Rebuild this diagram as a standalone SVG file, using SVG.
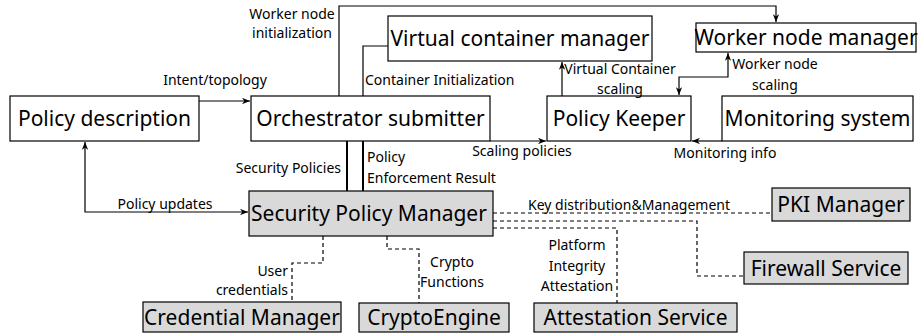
<svg xmlns="http://www.w3.org/2000/svg" width="923" height="334" viewBox="0 0 923 334">
<defs>
<marker id="ah" viewBox="0 0 10 8" refX="10" refY="4" markerWidth="8" markerHeight="6.4" orient="auto-start-reverse" markerUnits="userSpaceOnUse">
<path d="M0,0 L10,4 L0,8 L3,4 Z" fill="#000"/>
</marker>
</defs>
<style>
.box{fill:#fff;stroke:#000;stroke-width:1.2}
.gbox{fill:#d9d9d9;stroke:#000;stroke-width:1.2}
.nt{font-family:"Noto Sans","Open Sans","DejaVu Sans",sans-serif;font-size:21px;fill:#000}
.lb{font-family:"Noto Sans","Open Sans","DejaVu Sans",sans-serif;font-size:14px;fill:#000}
.c{fill:none;stroke:#000;stroke-width:1.2}
.thick{fill:none;stroke:#000;stroke-width:2}
.d{fill:none;stroke:#000;stroke-width:1.2;stroke-dasharray:4,3}
</style>
<rect width="923" height="334" fill="#fff"/>
<g id="connectors">
<path class="c" d="M199,101 L250,101" marker-end="url(#ah)"/>
<path class="c" d="M339,96 L339,6 L776,6 L776,22" marker-end="url(#ah)"/>
<path class="c" d="M363,96 L363,46 L388,46"/>
<path class="c" d="M562,96 L562,62" marker-end="url(#ah)"/>
<path class="c" d="M728,53 L728,77 L679,77 L679,95" marker-start="url(#ah)" marker-end="url(#ah)"/>
<path class="c" d="M490,141 L546,141" marker-end="url(#ah)"/>
<path class="c" d="M722,141 L692,141" marker-end="url(#ah)"/>
<path class="thick" d="M347,141 L347,191"/>
<path class="thick" d="M363,141 L363,191"/>
<path class="c" d="M85,142 L85,212 L248,212" marker-start="url(#ah)" marker-end="url(#ah)"/>
<path class="d" d="M493,213 L772,213"/>
<path class="d" d="M493,221 L697,221 L697,276 L744,276"/>
<path class="d" d="M493,228 L617,228 L617,303"/>
<path class="d" d="M387,236 L387,249 L419,249 L419,303"/>
<path class="d" d="M323,236 L323,263 L292,263 L292,302"/>
</g>
<g id="policy-description"><rect class="box" x="10" y="96" width="189" height="45"/><text class="nt" x="104.5" y="126" text-anchor="middle">Policy description</text></g>
<g id="orchestrator-submitter"><rect class="box" x="251" y="96" width="239" height="45"/><text class="nt" x="370.5" y="126" text-anchor="middle">Orchestrator submitter</text></g>
<g id="virtual-container-manager"><rect class="box" x="388" y="16" width="264" height="45"/><text class="nt" x="520" y="46" text-anchor="middle">Virtual container manager</text></g>
<g id="worker-node-manager"><rect class="box" x="696" y="23" width="220" height="29"/><text class="nt" x="806" y="45" text-anchor="middle">Worker node manager</text></g>
<g id="policy-keeper"><rect class="box" x="547" y="96" width="144" height="45"/><text class="nt" x="619" y="126" text-anchor="middle">Policy Keeper</text></g>
<g id="monitoring-system"><rect class="box" x="722" y="96" width="191" height="45"/><text class="nt" x="817.5" y="126" text-anchor="middle">Monitoring system</text></g>
<g id="security-policy-manager"><rect class="gbox" x="249" y="191" width="244" height="45"/><text class="nt" x="369" y="221" text-anchor="middle">Security Policy Manager</text></g>
<g id="pki-manager"><rect class="gbox" x="772" y="188" width="138" height="33"/><text class="nt" x="841" y="212" text-anchor="middle">PKI Manager</text></g>
<g id="firewall-service"><rect class="gbox" x="744" y="252" width="164" height="32"/><text class="nt" x="826" y="276" text-anchor="middle">Firewall Service</text></g>
<g id="credential-manager"><rect class="gbox" x="143" y="302" width="198" height="30"/><text class="nt" x="242" y="325" text-anchor="middle">Credential Manager</text></g>
<g id="cryptoengine"><rect class="gbox" x="359" y="303" width="150" height="29"/><text class="nt" x="434" y="325" text-anchor="middle">CryptoEngine</text></g>
<g id="attestation-service"><rect class="gbox" x="534" y="303" width="203" height="29"/><text class="nt" x="635.5" y="325" text-anchor="middle">Attestation Service</text></g>
<g id="labels">
<text class="lb" x="292" y="19" text-anchor="middle">Worker node</text>
<text class="lb" x="292" y="38" text-anchor="middle">initialization</text>
<text class="lb" x="215" y="85" text-anchor="middle">Intent/topology</text>
<text class="lb" x="365" y="85">Container Initialization</text>
<text class="lb" x="620" y="74" text-anchor="middle">Virtual Container</text>
<text class="lb" x="620" y="94" text-anchor="middle">scaling</text>
<text class="lb" x="775" y="69" text-anchor="middle">Worker node</text>
<text class="lb" x="775" y="90" text-anchor="middle">scaling</text>
<text class="lb" x="522" y="156" text-anchor="middle">Scaling policies</text>
<text class="lb" x="725" y="158" text-anchor="middle">Monitoring info</text>
<text class="lb" x="341" y="173" text-anchor="end">Security Policies</text>
<text class="lb" x="367" y="162">Policy</text>
<text class="lb" x="367" y="183">Enforcement Result</text>
<text class="lb" x="165" y="209" text-anchor="middle">Policy updates</text>
<text class="lb" x="629" y="210" text-anchor="middle">Key distribution&amp;Management</text>
<text class="lb" x="288" y="276" text-anchor="end">User</text>
<text class="lb" x="288" y="295" text-anchor="end">credentials</text>
<text class="lb" x="452" y="267" text-anchor="middle">Crypto</text>
<text class="lb" x="452" y="287" text-anchor="middle">Functions</text>
<text class="lb" x="577" y="250" text-anchor="middle">Platform</text>
<text class="lb" x="577" y="271" text-anchor="middle">Integrity</text>
<text class="lb" x="577" y="291" text-anchor="middle">Attestation</text>
</g>
</svg>
